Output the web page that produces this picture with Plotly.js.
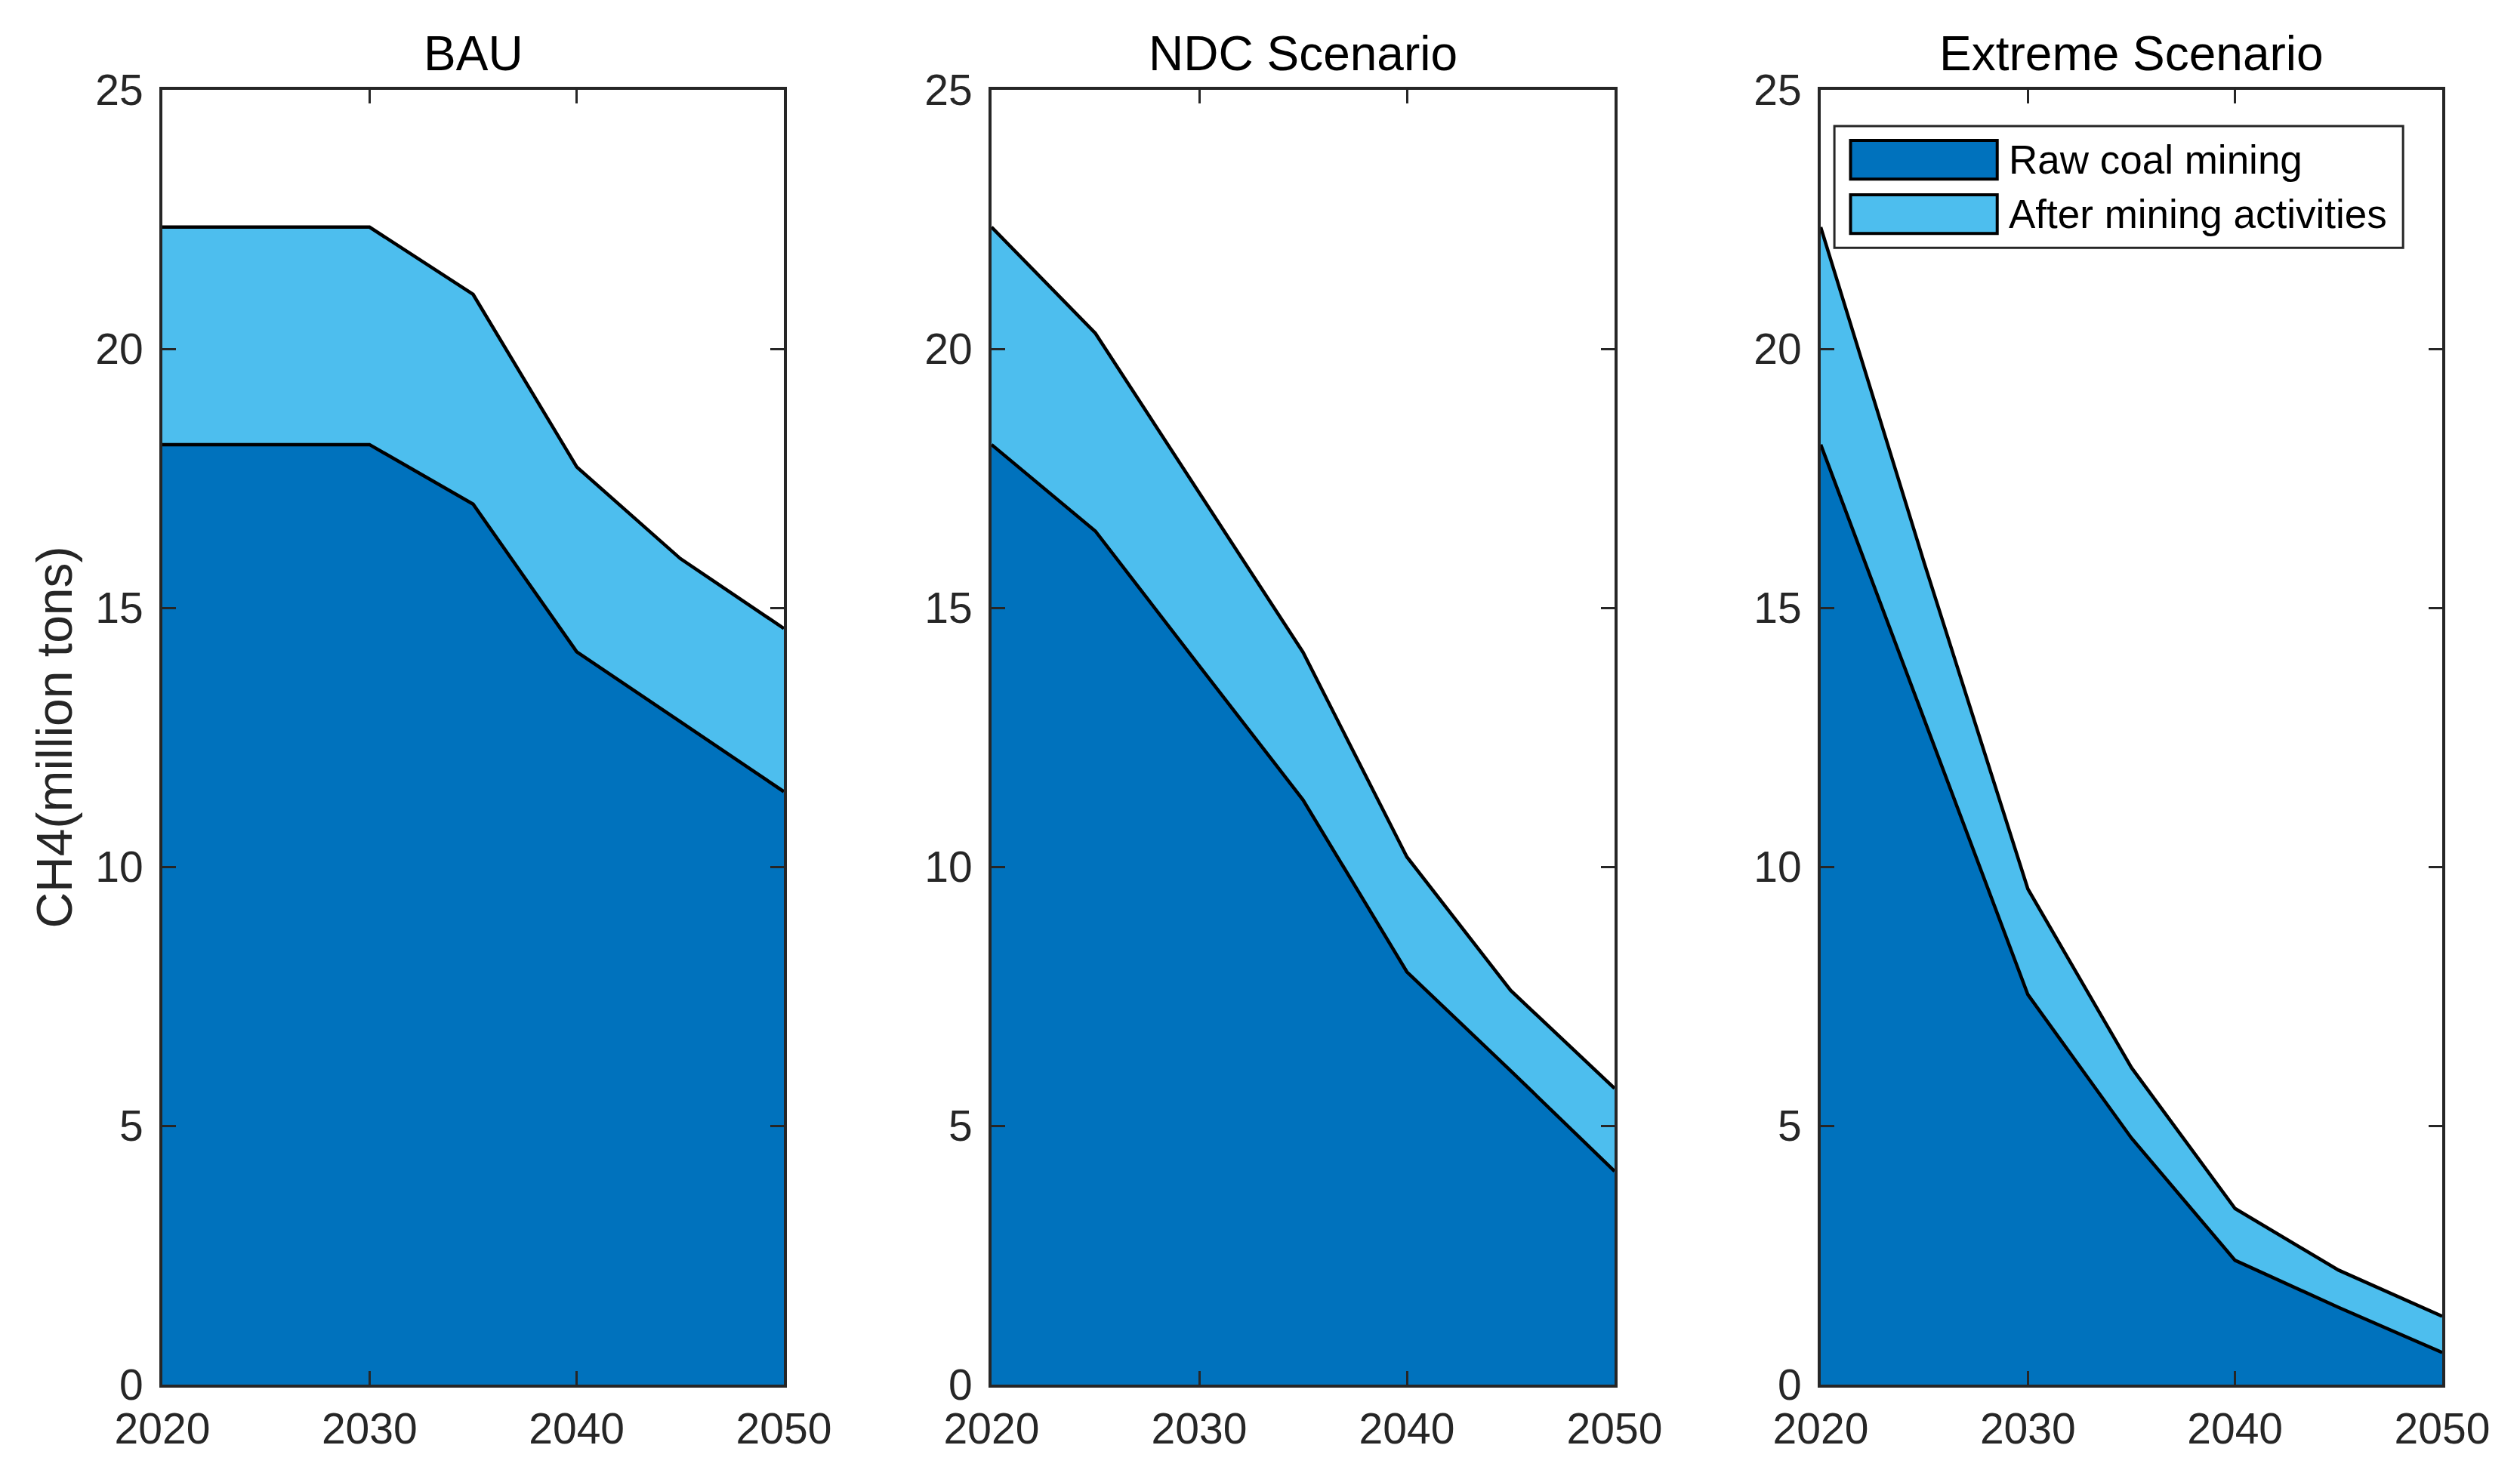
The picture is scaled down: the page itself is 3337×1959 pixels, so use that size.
<!DOCTYPE html>
<html>
<head>
<meta charset="utf-8">
<script src="https://cdn.plot.ly/plotly-3.0.1.min.js"></script>
<style>
  html, body { margin: 0; padding: 0; background: #ffffff; }
  #chart { width: 3337px; height: 1959px; }
</style>
</head>
<body>
<div id="chart"></div>
<script>
// ---- data (million tons CH4) ----
const years = [2020, 2025, 2030, 2035, 2040, 2045, 2050];
const xTickVals = [2020, 2030, 2040, 2050];
const panelTitles = ["BAU", "NDC Scenario", "Extreme Scenario"];
const seriesNames = ["Raw coal mining", "After mining activities"];

const bauRaw        = [18.15, 18.15, 18.15, 17.00, 14.15, 12.80, 11.45];
const bauAfter      = [4.20, 4.20, 4.20, 4.05, 3.57, 3.15, 3.15];
const ndcRaw        = [18.15, 16.48, 13.88, 11.29, 7.97, 6.06, 4.12];
const ndcAfter      = [4.20, 3.82, 3.34, 2.85, 2.22, 1.55, 1.60];
const extremeRaw    = [18.15, 12.86, 7.53, 4.76, 2.40, 1.49, 0.62];
const extremeAfter  = [4.20, 3.00, 2.04, 1.36, 1.00, 0.72, 0.70];

const rawSets = [bauRaw, ndcRaw, extremeRaw];
const afterSets = [bauAfter, ndcAfter, extremeAfter];

// ---- styles ----
const darkBlue = "#0072BD";
const lightBlue = "#4DBEEE";
const axisColor = "#262626";
const fontFam = "Liberation Sans, Arial, Helvetica, sans-serif";

const W = 3337, H = 1959;
const px = v => v / W;
const py = v => 1 - v / H;
const xDomains = [[px(215), px(1038)], [px(1313), px(2138)], [px(2411), px(3234)]];
const yDomain = [py(1834), py(119)];

const traces = [];
const layout = {
  width: W, height: H,
  margin: {l: 0, r: 0, t: 0, b: 0},
  paper_bgcolor: "#ffffff",
  plot_bgcolor: "#ffffff",
  showlegend: false,
  hovermode: false,
  font: {family: fontFam, color: axisColor},
  annotations: [],
  shapes: []
};

for (let i = 0; i < 3; i++) {
  const ax = i === 0 ? "" : String(i + 1);
  traces.push({
    type: "scatter", mode: "lines",
    x: years, y: rawSets[i],
    name: seriesNames[0],
    stackgroup: "s" + i,
    fillcolor: darkBlue,
    line: {color: "#000000", width: 4.5},
    xaxis: "x" + ax, yaxis: "y" + ax
  });
  traces.push({
    type: "scatter", mode: "lines",
    x: years, y: afterSets[i],
    name: seriesNames[1],
    stackgroup: "s" + i,
    fillcolor: lightBlue,
    line: {color: "#000000", width: 4.5},
    xaxis: "x" + ax, yaxis: "y" + ax
  });

  const common = {
    showline: true, linecolor: axisColor, linewidth: 4,
    mirror: "ticks", ticks: "inside", ticklen: 18, tickwidth: 3, tickcolor: axisColor,
    showgrid: false, zeroline: false, fixedrange: true,
    tickfont: {family: fontFam, size: 57, color: axisColor}
  };
  layout["xaxis" + ax] = Object.assign({}, common, {
    domain: xDomains[i], anchor: "y" + ax,
    range: [2020, 2050], tickvals: xTickVals, ticktext: xTickVals.map(String),
    ticklabelstandoff: 6
  });
  layout["yaxis" + ax] = Object.assign({}, common, {
    domain: yDomain, anchor: "x" + ax,
    range: [0, 25], tick0: 0, dtick: 5,
    ticklabelstandoff: 10
  });
  if (i === 0) {
    layout.yaxis.title = {
      text: "CH4(million tons)",
      font: {family: fontFam, size: 66, color: axisColor},
      standoff: 10
    };
  }
  layout.annotations.push({
    text: panelTitles[i],
    xref: "x" + ax + " domain", yref: "y" + ax + " domain",
    x: 0.5, y: 1, xanchor: "center", yanchor: "bottom", yshift: 10,
    showarrow: false,
    font: {family: fontFam, size: 64, color: "#000000"}
  });
}

// ---- legend (drawn in the third panel) ----
const lx = "x3 domain", ly = "y3 domain";
layout.shapes.push({type: "rect", xref: lx, yref: ly, x0: 0.022, x1: 0.937, y0: 0.878, y1: 0.972,
  fillcolor: "#ffffff", line: {color: axisColor, width: 3}, layer: "above"});
const swatchRows = [[0.931, 0.961], [0.889, 0.919]];
const swatchColors = [darkBlue, lightBlue];
for (let k = 0; k < 2; k++) {
  layout.shapes.push({type: "rect", xref: lx, yref: ly, x0: 0.048, x1: 0.284,
    y0: swatchRows[k][0], y1: swatchRows[k][1],
    fillcolor: swatchColors[k], line: {color: "#000000", width: 4}, layer: "above"});
  layout.annotations.push({
    text: seriesNames[k], xref: lx, yref: ly,
    x: 0.300, y: (swatchRows[k][0] + swatchRows[k][1]) / 2,
    xanchor: "left", yanchor: "middle", showarrow: false,
    font: {family: fontFam, size: 53, color: "#000000"}
  });
}

Plotly.newPlot("chart", traces, layout, {staticPlot: true, displayModeBar: false});
</script>
</body>
</html>
